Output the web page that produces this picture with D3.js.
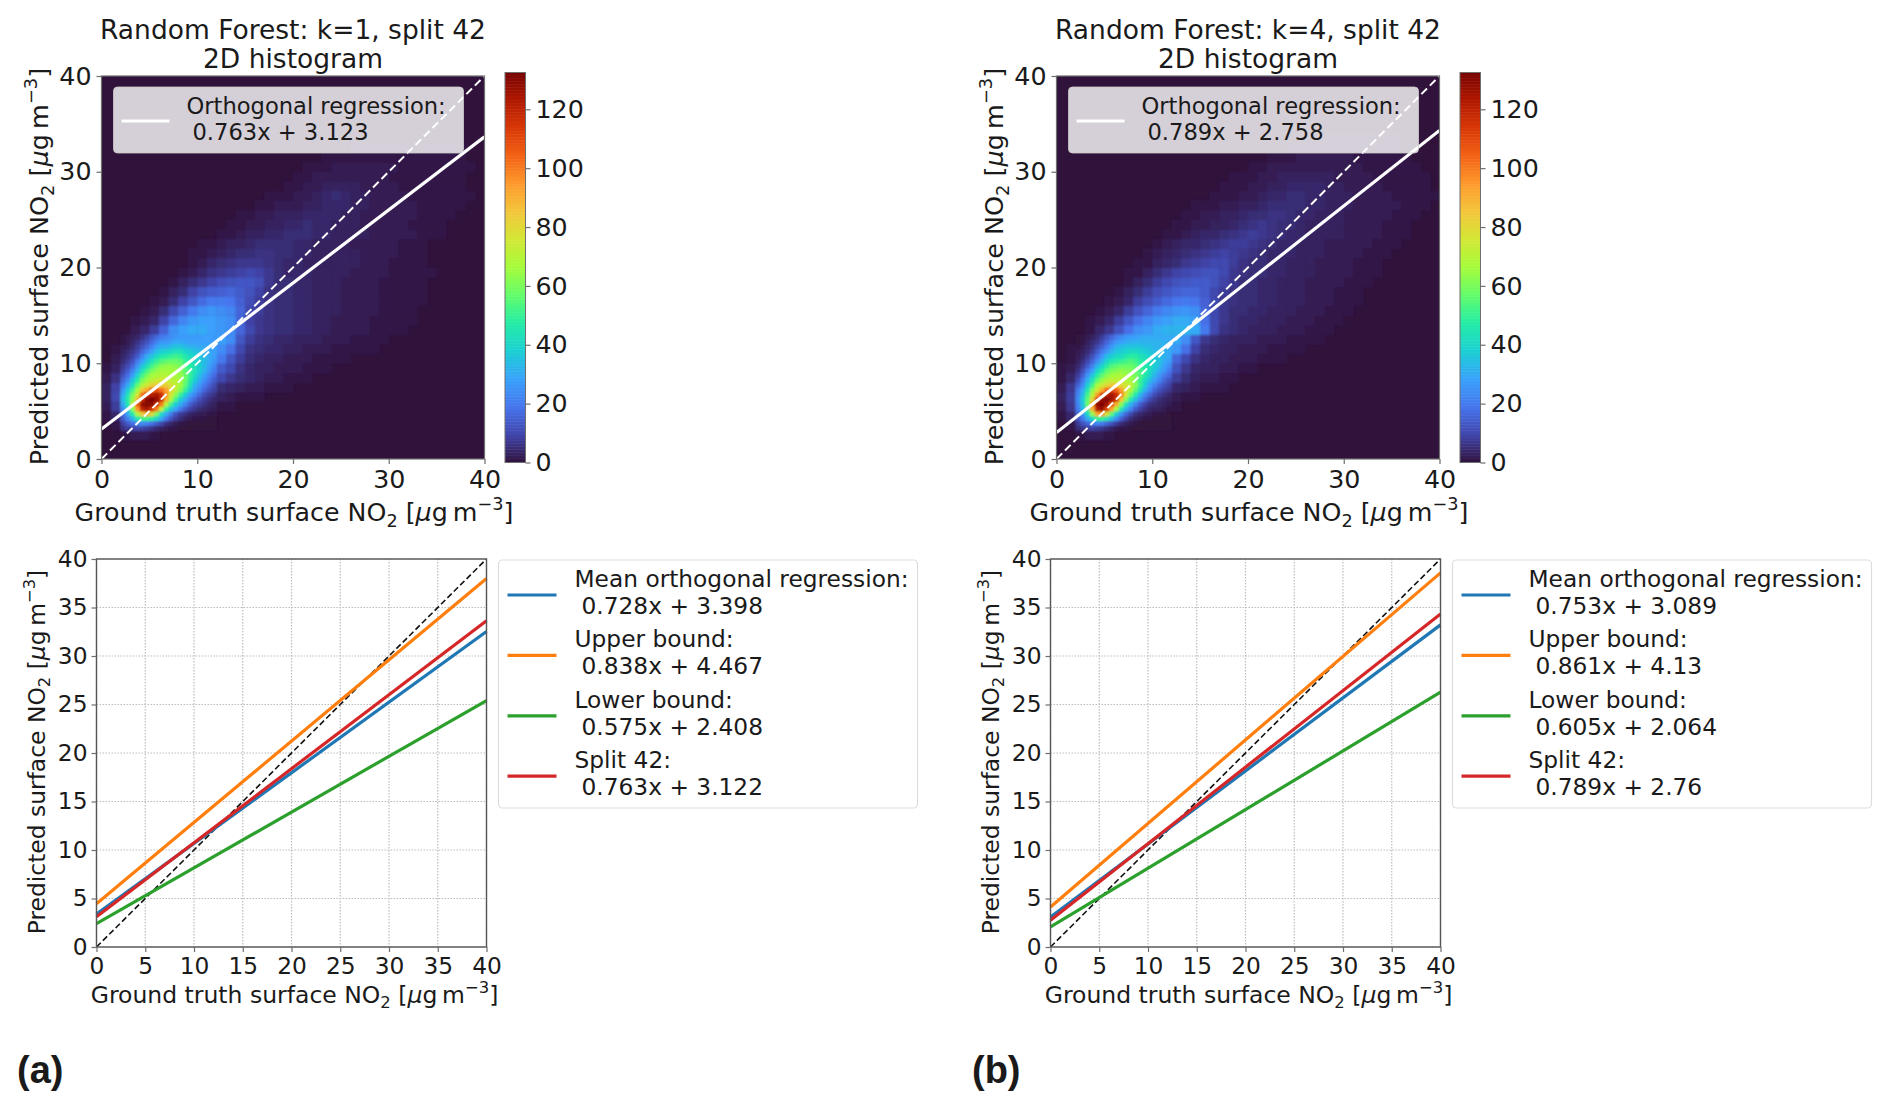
<!DOCTYPE html>
<html>
<head>
<meta charset="utf-8">
<script src="https://cdn.jsdelivr.net/npm/d3@7"></script>
<style>
  html, body { margin: 0; padding: 0; background: #fff; }
  text { font-family: "DejaVu Sans", sans-serif; fill: #1a1a1a; }
</style>
</head>
<body>
<svg id="chart" width="1892" height="1110"></svg>
<script>
// colormap samples (turbo)
var turboColors = ["#30123b","#4145ab","#4675ed","#39a2fc","#1bcfd4","#24eca6","#61fc6c","#a4fc3b","#d1e834","#f3c63a","#fe9b2d","#f36315","#d93806","#b11901","#7a0402"];
var countMax = 132.5;
var countTicks = [0, 20, 40, 60, 80, 100, 120];
var heatTicks = [0, 10, 20, 30, 40];
var lineTicks = [0, 5, 10, 15, 20, 25, 30, 35, 40];

var titlesA = ["Random Forest: k=1, split 42", "2D histogram"];
var titlesB = ["Random Forest: k=4, split 42", "2D histogram"];

// top panels, orthogonal regression of split 42
var fitSlopeA = 0.763, fitInterceptA = 3.123, fitLabelA = "0.763x + 3.123";
var fitSlopeB = 0.789, fitInterceptB = 2.758, fitLabelB = "0.789x + 2.758";

// bottom panels
var seriesNames = ["Mean orthogonal regression:", "Upper bound:", "Lower bound:", "Split 42:"];
var seriesColors = ["#1f77b4", "#ff7f0e", "#2ca02c", "#d62728"];
var slopesA = [0.728, 0.838, 0.575, 0.763];
var interceptsA = [3.398, 4.467, 2.408, 3.122];
var labelsA = ["0.728x + 3.398", "0.838x + 4.467", "0.575x + 2.408", "0.763x + 3.122"];
var slopesB = [0.753, 0.861, 0.605, 0.789];
var interceptsB = [3.089, 4.13, 2.064, 2.76];
var labelsB = ["0.753x + 3.089", "0.861x + 4.13", "0.605x + 2.064", "0.789x + 2.76"];

// histogram counts, coarse cells of 1 unit, row = y, index = x
var coarseA = [
  [],
  [],
  [0,0,1,2,2,1],
  [0,1,6,10,12,10,6,3,1],
  [1,4,20,40,47,40,22,10,4,2,1],
  [2,8,32,85,125,105,60,26,12,6,3,2,1,1],
  [3,10,35,70,122,128,105,60,36,16,8,4,3,2,1,1,1],
  [3,9,22,50,80,95,85,70,48,28,15,8,5,4,3,2,2,1,1,1],
  [2,6,14,34,56,68,68,62,50,36,22,12,10,7,5,4,3,2,2,1,1,1],
  [1,3,8,22,38,50,58,54,46,36,27,18,14,10,6,4,3,3,2,2,2,1,1,1],
  [0,2,5,12,24,34,40,40,36,30,26,22,20,13,8,5,4,3,3,2,2,2,1,1,1,1],
  [0,1,3,7,14,22,28,30,30,28,26,24,24,18,10,6,5,4,4,3,3,2,2,2,1,1,1,1,1],
  [0,0,1,4,8,14,22,26,26,28,26,24,28,24,13,8,6,5,4,4,3,3,3,2,2,2,1,1,1,1],
  [0,0,0,2,4,8,15,24,28,30,30,28,26,24,16,10,7,6,5,5,4,4,3,3,2,2,2,2,1,1,1,1],
  [0,0,0,1,2,4,9,16,22,26,28,28,26,24,16,9,7,6,5,5,4,4,3,3,2,2,2,2,1,1,1,1,1],
  [0,0,0,0,1,2,5,10,15,20,24,26,24,22,16,10,8,6,5,5,4,4,3,3,3,2,2,2,2,1,1,1,1],
  [0,0,0,0,0,1,2,5,9,13,17,20,20,19,15,11,8,6,5,5,4,4,3,3,3,2,2,2,2,1,1,1,1,1],
  [0,0,0,0,0,0,1,3,5,9,12,14,15,16,14,12,9,6,5,5,4,4,3,3,3,2,2,2,2,1,1,1,1,1],
  [0,0,0,0,0,0,0,1,3,5,7,9,11,12,13,13,11,7,5,5,4,4,3,3,3,2,2,2,2,1,1,1,1,1],
  [0,0,0,0,0,0,0,0,1,2,4,6,7,8,9,10,9,7,5,4,4,4,3,3,3,3,2,2,2,2,1,1,1,1,1],
  [0,0,0,0,0,0,0,0,0,1,2,4,5,6,7,7,7,6,5,4,4,3,3,3,3,3,3,2,2,2,1,1,1,1],
  [0,0,0,0,0,0,0,0,0,1,1,2,3,4,5,5,6,6,5,5,4,4,3,3,3,3,3,2,2,2,2,1,1,1],
  [0,0,0,0,0,0,0,0,0,0,1,1,2,3,3,4,5,5,5,5,4,4,3,3,3,3,2,2,2,2,2,1,1,1],
  [0,0,0,0,0,0,0,0,0,0,0,0,1,1,2,3,3,4,4,5,5,5,4,4,3,3,3,3,2,2,2,2,2,1,1,1],
  [0,0,0,0,0,0,0,0,0,0,0,0,0,1,1,2,2,3,3,4,4,5,4,4,3,3,3,2,2,2,2,2,1,1,1,1],
  [0,0,0,0,0,0,0,0,0,0,0,0,0,0,1,1,2,2,3,3,3,4,4,4,4,3,3,2,2,2,2,2,2,1,1,1,1],
  [0,0,0,0,0,0,0,0,0,0,0,0,0,0,0,0,1,1,2,2,2,3,3,4,4,4,3,3,2,2,2,2,2,1,1,1,1,1],
  [0,0,0,0,0,0,0,0,0,0,0,0,0,0,0,0,0,1,1,1,2,2,3,4,5,4,3,3,2,2,2,2,1,1,1,1,1,1,1],
  [0,0,0,0,0,0,0,0,0,0,0,0,0,0,0,0,0,0,0,1,1,2,2,3,3,3,3,2,2,2,2,1,1,1,1,1,1,1],
  [0,0,0,0,0,0,0,0,0,0,0,0,0,0,0,0,0,0,0,0,1,1,2,2,2,2,2,2,2,2,1,1,1,1,1,1,1,1],
  [0,0,0,0,0,0,0,0,0,0,0,0,0,0,0,0,0,0,0,0,0,1,1,1,2,2,2,2,2,2,2,1,1,1,1,1,1,1,1],
  [0,0,0,0,0,0,0,0,0,0,0,0,0,0,0,0,0,0,0,0,0,0,0,1,1,1,1,1,1,1,1,1,1,1,1,1,1,1],
  [0,0,0,0,0,0,0,0,0,0,0,0,0,0,0,0,0,0,0,0,0,0,0,0,0,0,1,1,1,1,1,1,1,1,1,1,1,1]
];

var coarseB = [
  [],
  [],
  [0,0,1,2,2,1],
  [0,1,5,9,11,9,5,2,1],
  [1,4,18,36,44,36,18,8,3,1,1],
  [2,7,28,80,122,100,55,22,10,5,2,1,1],
  [3,8,30,70,118,128,102,56,30,13,7,3,2,1,1],
  [2,7,20,46,78,95,88,70,44,24,12,6,4,3,2,1,1,1],
  [1,4,12,32,54,66,68,62,48,32,20,10,8,5,3,2,2,1,1],
  [1,2,7,20,36,48,54,52,46,36,26,16,12,7,4,3,3,2,2,1,1],
  [0,1,4,10,22,30,36,38,36,32,28,22,16,10,6,4,3,3,2,2,2,1,1,1],
  [0,1,2,6,12,20,26,28,30,30,30,26,26,18,9,5,4,3,3,2,2,2,1,1,1,1],
  [0,0,1,3,7,12,18,24,28,30,30,28,30,24,13,7,5,4,3,3,3,2,2,2,1,1,1,1],
  [0,0,0,1,4,7,12,18,24,26,30,32,32,32,30,20,10,6,5,4,3,3,3,2,2,2,1,1,1],
  [0,0,0,1,2,4,8,13,18,22,26,28,30,30,28,18,10,7,5,4,4,3,3,3,2,2,2,1,1,1],
  [0,0,0,0,1,2,4,8,12,16,20,23,25,26,24,16,10,7,5,5,4,4,3,3,3,2,2,2,1,1,1],
  [0,0,0,0,0,1,2,4,8,11,14,17,19,20,19,15,10,7,6,5,5,4,4,3,3,3,2,2,2,1,1,1],
  [0,0,0,0,0,0,1,3,5,8,11,13,15,16,16,14,10,8,6,5,5,4,4,3,3,3,2,2,2,1,1,1],
  [0,0,0,0,0,0,0,1,3,5,8,10,12,13,14,14,12,9,7,5,5,4,4,3,3,3,2,2,2,2,1,1,1],
  [0,0,0,0,0,0,0,1,1,3,5,7,9,10,11,12,12,10,7,6,5,5,4,4,3,3,3,2,2,2,2,1,1,1],
  [0,0,0,0,0,0,0,0,1,1,3,4,5,7,8,9,10,10,8,6,5,5,4,4,3,3,3,2,2,2,2,1,1,1],
  [0,0,0,0,0,0,0,0,0,1,2,3,4,5,6,7,8,9,8,7,6,5,4,4,4,3,3,3,2,2,2,2,1,1,1],
  [0,0,0,0,0,0,0,0,0,0,1,2,3,4,4,5,6,7,8,8,7,6,5,4,4,3,3,3,2,2,2,2,2,1,1,1],
  [0,0,0,0,0,0,0,0,0,0,0,1,1,2,3,4,4,5,6,7,8,7,6,5,4,4,3,3,3,3,2,2,2,2,1,1,1],
  [0,0,0,0,0,0,0,0,0,0,0,0,1,1,2,2,3,3,4,5,6,7,6,5,5,4,3,3,3,3,2,2,2,2,1,1,1],
  [0,0,0,0,0,0,0,0,0,0,0,0,0,1,1,2,2,3,3,4,5,5,6,6,5,4,4,3,3,3,2,2,2,2,2,1,1,1],
  [0,0,0,0,0,0,0,0,0,0,0,0,0,0,1,1,1,2,2,3,3,4,5,5,5,5,4,4,3,3,3,2,2,2,2,2,1,1,1],
  [0,0,0,0,0,0,0,0,0,0,0,0,0,0,0,0,1,1,1,2,2,3,4,4,5,5,4,4,3,3,3,2,2,2,2,1,1,1,1,1],
  [0,0,0,0,0,0,0,0,0,0,0,0,0,0,0,0,0,1,1,1,2,2,3,3,4,4,4,4,3,3,2,2,2,2,1,1,1,1,1],
  [0,0,0,0,0,0,0,0,0,0,0,0,0,0,0,0,0,0,1,1,1,2,2,3,3,3,3,3,3,2,2,2,2,1,1,1,1,1,1],
  [0,0,0,0,0,0,0,0,0,0,0,0,0,0,0,0,0,0,0,0,1,1,2,2,2,2,2,2,2,2,2,2,1,1,1,1,1,1],
  [0,0,0,0,0,0,0,0,0,0,0,0,0,0,0,0,0,0,0,0,0,0,1,1,1,2,2,2,2,2,2,1,1,1,1,1,1],
  [0,0,0,0,0,0,0,0,0,0,0,0,0,0,0,0,0,0,0,0,0,0,0,0,1,1,1,1,1,1,1,1,1,1,1,1],
  [0,0,0,0,0,0,0,0,0,0,0,0,0,0,0,0,0,0,0,0,0,0,0,0,0,0,0,1,1,1,1,1,1,1,1,1]
];

// core of the histogram at the real bin size, half a unit
var fineStartX = 2, fineStartY = 3, fineBin = 0.5;
var fineA = [
  [6,8,9,10,9,8,6,4,3,2,1,1,0,0,0,0,0,0,0,0],
  [9,14,18,22,24,22,18,14,10,6,4,2,1,1,0,0,0,0,0,0],
  [14,22,32,46,52,52,48,40,30,20,12,8,5,3,2,1,1,1,0,0],
  [18,30,48,68,85,90,80,60,42,30,20,12,8,6,4,3,2,2,1,1],
  [24,40,62,95,120,125,115,100,72,50,36,28,20,14,9,7,5,4,3,2],
  [30,46,70,105,128,131,130,118,100,70,52,38,30,22,15,10,8,6,4,3],
  [34,48,64,88,118,130,132,128,118,90,68,52,38,30,22,16,11,8,6,4],
  [30,44,60,76,102,118,122,125,118,96,76,62,50,38,28,22,16,11,8,6],
  [26,38,52,66,84,92,105,108,102,94,82,72,62,50,38,28,22,16,12,9],
  [20,30,42,56,68,76,82,84,84,82,78,72,66,56,44,32,26,20,15,11],
  [16,24,36,48,60,66,72,74,76,74,72,70,66,58,48,38,30,24,19,14],
  [12,18,28,40,52,60,66,68,70,70,68,68,64,58,50,42,34,28,22,17],
  [9,14,22,32,44,52,60,64,66,66,66,66,62,56,50,44,38,32,26,20],
  [7,11,16,26,36,44,52,58,62,64,64,62,60,54,48,44,38,34,28,23],
  [5,8,12,20,28,36,44,50,54,56,58,58,56,50,46,42,38,34,30,26],
  [4,6,9,14,22,30,36,42,46,48,50,52,50,46,42,40,36,34,30,28],
  [3,5,7,10,16,22,28,34,38,40,42,44,44,40,38,36,34,32,30,28],
  [2,3,5,8,12,16,22,28,32,32,34,36,36,34,32,32,30,30,28,28],
  [1,2,4,6,9,12,17,22,26,26,28,30,30,29,28,28,28,28,28,27],
  [1,2,3,4,6,9,13,17,20,22,24,26,27,27,27,27,27,28,28,27]
];
var fineB = [
  [5,7,8,9,8,7,5,3,2,1,1,0,0,0,0,0,0,0,0,0],
  [8,12,16,20,22,20,16,12,8,5,3,2,1,0,0,0,0,0,0,0],
  [12,20,30,42,50,50,44,34,24,15,9,5,3,2,1,1,0,0,0,0],
  [16,26,42,64,92,96,78,56,38,26,16,10,6,4,3,2,1,1,1,0],
  [20,34,54,90,122,128,112,92,66,46,32,22,14,9,6,4,3,3,2,1],
  [22,36,58,97,128,132,126,110,90,62,44,32,22,14,9,6,5,4,3,2],
  [24,38,56,82,114,128,131,126,116,86,62,46,34,24,16,10,7,5,4,3],
  [22,34,52,70,94,114,122,125,118,100,76,58,46,32,22,16,11,8,6,4],
  [20,30,46,62,76,90,104,110,104,94,80,68,56,44,32,24,16,12,9,7],
  [15,24,38,52,66,74,80,84,84,80,76,72,62,50,38,28,22,16,12,9],
  [11,20,32,44,56,64,70,72,72,72,70,66,60,50,42,34,28,22,16,12],
  [8,15,26,36,48,56,62,66,68,68,66,64,60,54,46,40,32,26,20,16],
  [6,11,20,28,40,48,56,60,62,64,62,62,58,52,48,42,36,30,26,20],
  [4,8,14,22,32,40,48,54,56,58,58,58,56,50,46,44,38,34,28,24],
  [3,6,10,16,24,32,40,46,48,50,52,54,52,48,46,42,38,36,30,28],
  [2,4,7,12,18,26,34,38,42,42,46,48,48,44,42,40,36,34,32,30],
  [2,3,5,8,14,20,26,32,36,38,40,42,42,40,38,36,34,34,32,30],
  [1,2,4,6,10,15,20,26,32,34,36,36,36,36,34,34,32,32,32,30],
  [0,1,3,5,7,11,16,21,26,28,30,32,32,32,32,32,32,32,32,30],
  [0,1,2,3,5,8,12,16,20,24,26,28,28,30,30,30,30,30,30,30]
];

var svg = d3.select("#chart");
var frameColor = "#6e6e6e";
var color = d3.scaleLinear()
  .domain(turboColors.map(function(c, i) { return i / (turboColors.length - 1) * countMax; }))
  .range(turboColors)
  .clamp(true);

var defs = svg.append("defs");
defs.append("filter").attr("id", "soft")
  .attr("x", "-5%").attr("y", "-5%").attr("width", "110%").attr("height", "110%")
  .append("feGaussianBlur").attr("stdDeviation", 1);

// NO2 axis labels, subscript and superscript as tspans
function axisLabel(g, x, y, size, first, rotate) {
  var t = g.append("text")
    .attr("text-anchor", "middle")
    .attr("font-size", size)
    .attr("transform", "translate(" + x + "," + y + ")" + (rotate ? " rotate(-90)" : ""));
  t.append("tspan").text(first + " surface NO");
  t.append("tspan").attr("font-size", size * 0.7).attr("dy", size * 0.22).text("2");
  t.append("tspan").attr("dy", -size * 0.22).text(" [");
  t.append("tspan").attr("font-style", "italic").text("\u03bc");
  t.append("tspan").text("g\u2009m");
  t.append("tspan").attr("font-size", size * 0.7).attr("dy", -size * 0.42).text("\u22123");
  t.append("tspan").attr("dy", size * 0.42).text("]");
}

function styleAxis(ax, size) {
  ax.select(".domain").remove();
  ax.selectAll(".tick line").attr("stroke", frameColor).attr("stroke-width", 1.2);
  ax.selectAll(".tick text").attr("font-size", size).attr("fill", "#1a1a1a")
    .attr("font-family", '"DejaVu Sans", sans-serif');
}

function drawHeat(left, clipId, titles, coarse, fine, slope, intercept, fitLabel) {
  var top = 76, size = 383;
  var x = d3.scaleLinear().domain([0, 40]).range([left, left + size]);
  var y = d3.scaleLinear().domain([0, 40]).range([top + size, top]);
  var g = svg.append("g");

  defs.append("clipPath").attr("id", clipId).append("rect")
    .attr("x", left).attr("y", top).attr("width", size).attr("height", size);

  var plot = g.append("g").attr("clip-path", "url(#" + clipId + ")");
  plot.append("rect").attr("x", left).attr("y", top).attr("width", size).attr("height", size)
    .attr("fill", color(0));

  var cells = plot.append("g").attr("filter", "url(#soft)");
  var coarseCells = [];
  coarse.forEach(function(row, j) {
    row.forEach(function(v, i) { if (v > 0) coarseCells.push({x: i, y: j, v: v, w: 1}); });
  });
  var fineCells = [];
  fine.forEach(function(row, j) {
    row.forEach(function(v, i) {
      fineCells.push({x: fineStartX + i * fineBin, y: fineStartY + j * fineBin, v: v, w: fineBin});
    });
  });
  cells.selectAll("rect").data(coarseCells.concat(fineCells)).enter().append("rect")
    .attr("x", function(d) { return x(d.x); })
    .attr("y", function(d) { return y(d.y + d.w); })
    .attr("width", function(d) { return x(d.w) - x(0) + 0.4; })
    .attr("height", function(d) { return y(0) - y(d.w) + 0.4; })
    .attr("fill", function(d) { return color(d.v); });

  // 1:1 line and the fit
  plot.append("line")
    .attr("x1", x(0)).attr("y1", y(0)).attr("x2", x(40)).attr("y2", y(40))
    .attr("stroke", "#fff").attr("stroke-width", 2).attr("stroke-dasharray", "8,4");
  plot.append("line")
    .attr("x1", x(0)).attr("y1", y(intercept)).attr("x2", x(40)).attr("y2", y(slope * 40 + intercept))
    .attr("stroke", "#fff").attr("stroke-width", 3.2);

  g.append("rect").attr("x", left).attr("y", top).attr("width", size).attr("height", size)
    .attr("fill", "none").attr("stroke", frameColor).attr("stroke-width", 1.2);

  var ax = g.append("g").attr("transform", "translate(0," + (top + size) + ")")
    .call(d3.axisBottom(x).tickValues(heatTicks).tickFormat(d3.format("d")).tickSize(5).tickPadding(6));
  styleAxis(ax, 25.3);
  var ay = g.append("g").attr("transform", "translate(" + left + ",0)")
    .call(d3.axisLeft(y).tickValues(heatTicks).tickFormat(d3.format("d")).tickSize(5).tickPadding(5));
  styleAxis(ay, 25.3);

  g.selectAll("text.title").data(titles).enter().append("text").attr("class", "title")
    .attr("x", left + size / 2).attr("y", function(d, i) { return 38.5 + i * 29.5; })
    .attr("text-anchor", "middle").attr("font-size", 26.5)
    .text(function(d) { return d; });

  axisLabel(g, left + size / 2 + 1, 521, 25.3, "Ground truth", false);
  axisLabel(g, left - 53.5, top + size / 2 - 1, 25.5, "Predicted", true);

  // legend
  g.append("rect").attr("x", left + 12).attr("y", 87).attr("width", 350).attr("height", 66).attr("rx", 4)
    .attr("fill", "#fff").attr("fill-opacity", 0.8).attr("stroke", "#ccc").attr("stroke-opacity", 0.8);
  g.append("line").attr("x1", left + 20).attr("x2", left + 68).attr("y1", 121).attr("y2", 121)
    .attr("stroke", "#fff").attr("stroke-width", 3.2);
  g.append("text").attr("x", left + 85).attr("y", 114).attr("font-size", 22.6).text("Orthogonal regression:");
  g.append("text").attr("x", left + 91).attr("y", 140).attr("font-size", 22.6).text(fitLabel);

  // colorbar
  var cbx = left + size + 20.5, cbw = 20.5;
  var cy = d3.scaleLinear().domain([0, countMax]).range([462.5, 72.5]);
  g.append("g").selectAll("rect").data(d3.range(0, countMax, 0.5)).enter().append("rect")
    .attr("x", cbx).attr("width", cbw)
    .attr("y", function(d) { return cy(d + 0.5); })
    .attr("height", cy(0) - cy(0.5) + 0.5)
    .attr("fill", function(d) { return color(d + 0.25); });
  g.append("rect").attr("x", cbx).attr("y", cy(countMax)).attr("width", cbw).attr("height", cy(0) - cy(countMax))
    .attr("fill", "none").attr("stroke", frameColor).attr("stroke-width", 1);
  var ac = g.append("g").attr("transform", "translate(" + (cbx + cbw) + ",0)")
    .call(d3.axisRight(cy).tickValues(countTicks).tickFormat(d3.format("d")).tickSize(5).tickPadding(5));
  styleAxis(ac, 25.3);
}

function drawLines(left, slopes, intercepts, labels) {
  var top = 559, w = 390, h = 388;
  var x = d3.scaleLinear().domain([0, 40]).range([left, left + w]);
  var y = d3.scaleLinear().domain([0, 40]).range([top + h, top]);
  var g = svg.append("g");

  // dotted grid
  g.append("g").selectAll("line").data(lineTicks).enter().append("line")
    .attr("x1", function(d) { return x(d); }).attr("x2", function(d) { return x(d); })
    .attr("y1", top).attr("y2", top + h)
    .attr("stroke", "#bdbdbd").attr("stroke-width", 1.2).attr("stroke-dasharray", "1.5,1.5");
  g.append("g").selectAll("line").data(lineTicks).enter().append("line")
    .attr("x1", left).attr("x2", left + w)
    .attr("y1", function(d) { return y(d); }).attr("y2", function(d) { return y(d); })
    .attr("stroke", "#bdbdbd").attr("stroke-width", 1.2).attr("stroke-dasharray", "1.5,1.5");

  var plot = g.append("g");
  plot.append("line")
    .attr("x1", x(0)).attr("y1", y(0)).attr("x2", x(40)).attr("y2", y(40))
    .attr("stroke", "#111").attr("stroke-width", 1.6).attr("stroke-dasharray", "6,3");
  plot.selectAll("line.fit").data(slopes).enter().append("line").attr("class", "fit")
    .attr("x1", x(0)).attr("x2", x(40))
    .attr("y1", function(d, i) { return y(intercepts[i]); })
    .attr("y2", function(d, i) { return y(d * 40 + intercepts[i]); })
    .attr("stroke", function(d, i) { return seriesColors[i]; })
    .attr("stroke-width", 3.2);

  g.append("rect").attr("x", left).attr("y", top).attr("width", w).attr("height", h)
    .attr("fill", "none").attr("stroke", "#555").attr("stroke-width", 1.4);

  var ax = g.append("g").attr("transform", "translate(0," + (top + h) + ")")
    .call(d3.axisBottom(x).tickValues(lineTicks).tickFormat(d3.format("d")).tickSize(5).tickPadding(5));
  styleAxis(ax, 23.3);
  var ay = g.append("g").attr("transform", "translate(" + left + ",0)")
    .call(d3.axisLeft(y).tickValues(lineTicks).tickFormat(d3.format("d")).tickSize(5).tickPadding(4));
  styleAxis(ay, 23.3);

  axisLabel(g, left + w / 2 + 3, 1003, 23.5, "Ground truth", false);
  axisLabel(g, left - 52, top + h / 2 - 1, 23.4, "Predicted", true);

  // legend
  var lx = left + w + 12;
  g.append("rect").attr("x", lx).attr("y", 560).attr("width", 419).attr("height", 248).attr("rx", 4)
    .attr("fill", "#fff").attr("stroke", "#ddd").attr("stroke-width", 1.2);
  var rowStep = 60.4;
  var rows = g.append("g").selectAll("g").data(seriesNames).enter().append("g")
    .attr("transform", function(d, i) { return "translate(0," + i * rowStep + ")"; });
  rows.append("line").attr("x1", lx + 9).attr("x2", lx + 58).attr("y1", 595).attr("y2", 595)
    .attr("stroke", function(d, i) { return seriesColors[i]; }).attr("stroke-width", 3.2);
  rows.append("text").attr("x", lx + 76).attr("y", 587).attr("font-size", 23.3)
    .text(function(d) { return d; });
  rows.append("text").attr("x", lx + 83).attr("y", 614).attr("font-size", 23.3)
    .text(function(d, i) { return labels[i]; });
}

drawHeat(101.5, "clipA", titlesA, coarseA, fineA, fitSlopeA, fitInterceptA, fitLabelA);
drawHeat(1056.5, "clipB", titlesB, coarseB, fineB, fitSlopeB, fitInterceptB, fitLabelB);
drawLines(96.5, slopesA, interceptsA, labelsA);
drawLines(1050.5, slopesB, interceptsB, labelsB);

// panel letters
svg.selectAll("text.letter").data(["(a)", "(b)"]).enter().append("text").attr("class", "letter")
  .attr("x", function(d, i) { return i ? 972 : 17; })
  .attr("y", 1083)
  .attr("font-size", 38).attr("font-weight", "bold")
  .style("font-family", '"Liberation Sans", sans-serif')
  .text(function(d) { return d; });
</script>
</body>
</html>
